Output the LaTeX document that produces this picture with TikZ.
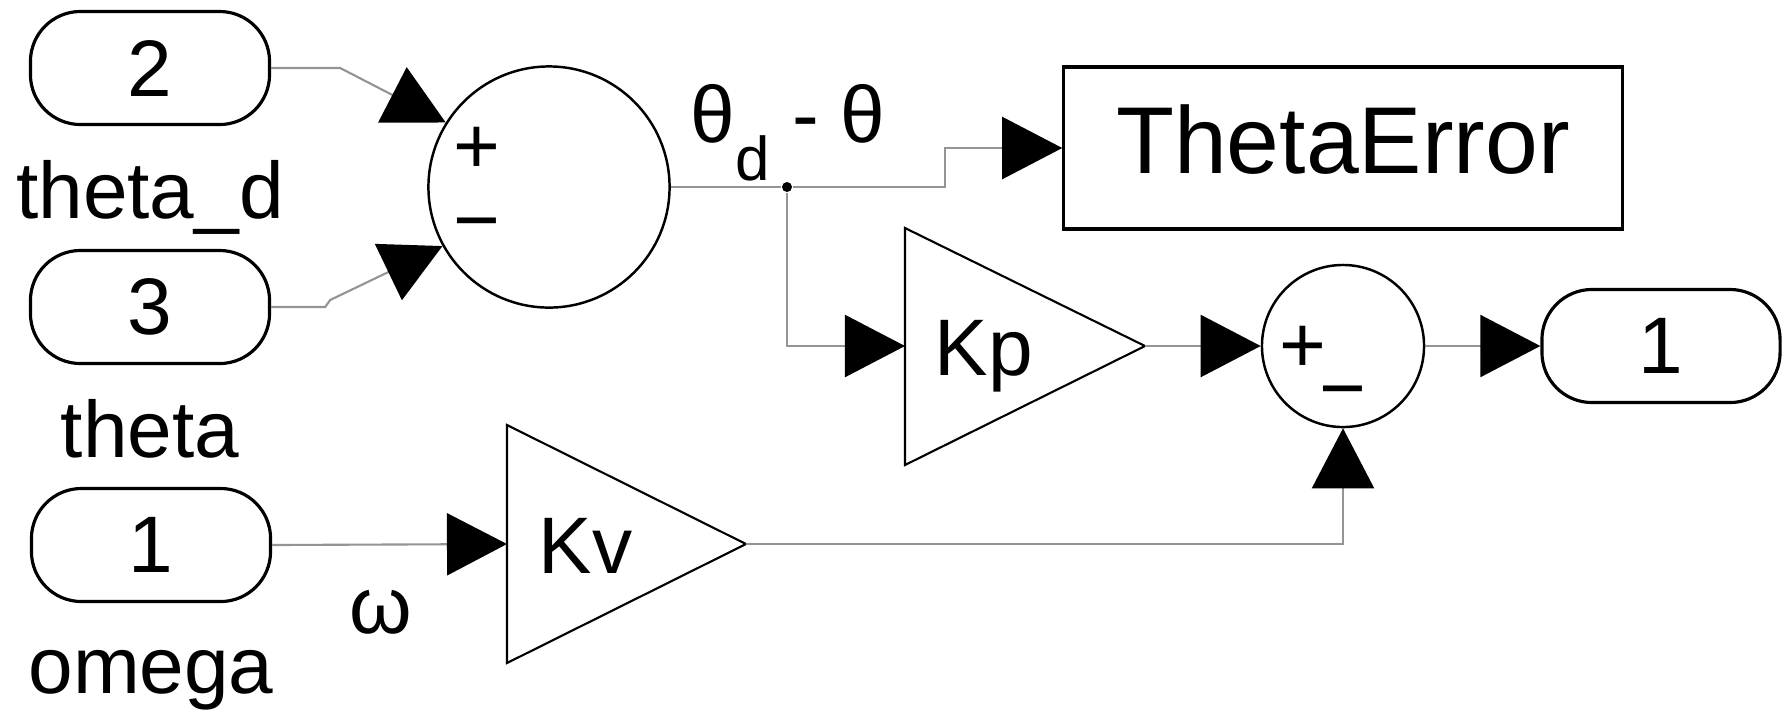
\documentclass[tikz,border=0pt]{standalone}
\usepackage{fontspec}
\setmainfont{Liberation Sans}
\usetikzlibrary{arrows.meta}
\begin{document}
\begin{tikzpicture}[x=0.01cm,y=-0.01cm,
  txt/.style={font=\fontsize{22.8}{26}\selectfont},
  port/.style={txt, draw=black, line width=0.9pt, rounded corners=0.5cm,
    minimum width=2.39cm, minimum height=1.13cm, inner sep=0pt},
  sumblk/.style={draw=black, circle, line width=0.7pt, inner sep=0pt},
  rectblk/.style={draw=black, line width=0.9pt, inner sep=0pt},
  gainblk/.style={draw=black, line width=0.6pt, line join=miter},
  lbl/.style={txt, inner sep=0pt},
  wire/.style={draw=black!42, line width=0.6pt},
  arr/.style={wire, -{Triangle[length=0.6cm,width=0.62cm,color=black]}},
  dotn/.style={circle, fill=black, minimum size=0.1cm, inner sep=0pt},
]
\useasboundingbox (0,0) rectangle (1785,714);

% inports
\node[port] (in2) at (150,68) {2};
\node[lbl, anchor=base] (l2) at (150,218) {theta\_d};
\node[port] (in3) at (150,307) {3};
\node[lbl, anchor=base] (l3) at (150,457) {theta};
\node[port] (in1) at (151,545) {1};
\node[lbl, anchor=base] (l1) at (151,693) {omega};
\node[lbl, anchor=base] (wl) at (381,633) {ω};

% first sum
\node[sumblk, minimum size=2.41cm] (s1) at (549,187) {};
\node[lbl] (s1p) at (477,150) {+};
\node[lbl] (s1m) at (477,233) {−};

% error label
\node[lbl, anchor=base west] (el) at (690,142)
  {θ\raisebox{-0.38cm}{\fontsize{17.6}{20}\selectfont d} - θ};

% ThetaError display
\node[rectblk, minimum width=5.58cm, minimum height=1.62cm,
  font=\fontsize{27}{30}\selectfont, text height=0.68cm, text depth=0.18cm]
  (te) at (1343,148) {ThetaError};

% Kp gain
\draw[gainblk] (905,228) -- (1145,346) -- (905,465) -- cycle;
\coordinate (kpin) at (905,346);
\coordinate (kpout) at (1145,346);
\node[lbl, anchor=base west] (kpt) at (934,375) {Kp};

% Kv gain
\draw[gainblk] (507,425) -- (746,544) -- (507,663) -- cycle;
\coordinate (kvin) at (507,544);
\coordinate (kvout) at (746,544);
\node[lbl, anchor=base west] (kvt) at (538,573) {Kv};

% second sum
\node[sumblk, minimum size=1.62cm] (s2) at (1343,346) {};
\node[lbl] (s2p) at (1303,349) {+};
\node[lbl] (s2m) at (1343,401) {−};

% outport
\node[port, minimum width=2.38cm] (out) at (1661,346) {1};

% branch point
\node[dotn] (br) at (787,187) {};

% connectors
\draw[arr] (in2.east) -- ++(69,0) -- (s1.148);
\draw[arr] (in3.east) -- ++(54,0) -- ++(5,-7) -- (s1.209);
\draw[wire] (s1.east) -- (br);
\draw[arr] (br) -- ++(158,0) |- (te.west);
\draw[arr] (br) |- (kpin);
\draw[arr] (kpout) -- (s2.west);
\draw[arr] (s2.east) -- (out.west);
\draw[arr] (in1.east) -- (kvin);
\draw[arr] (kvout) -| (s2.south);
\end{tikzpicture}
\end{document}
